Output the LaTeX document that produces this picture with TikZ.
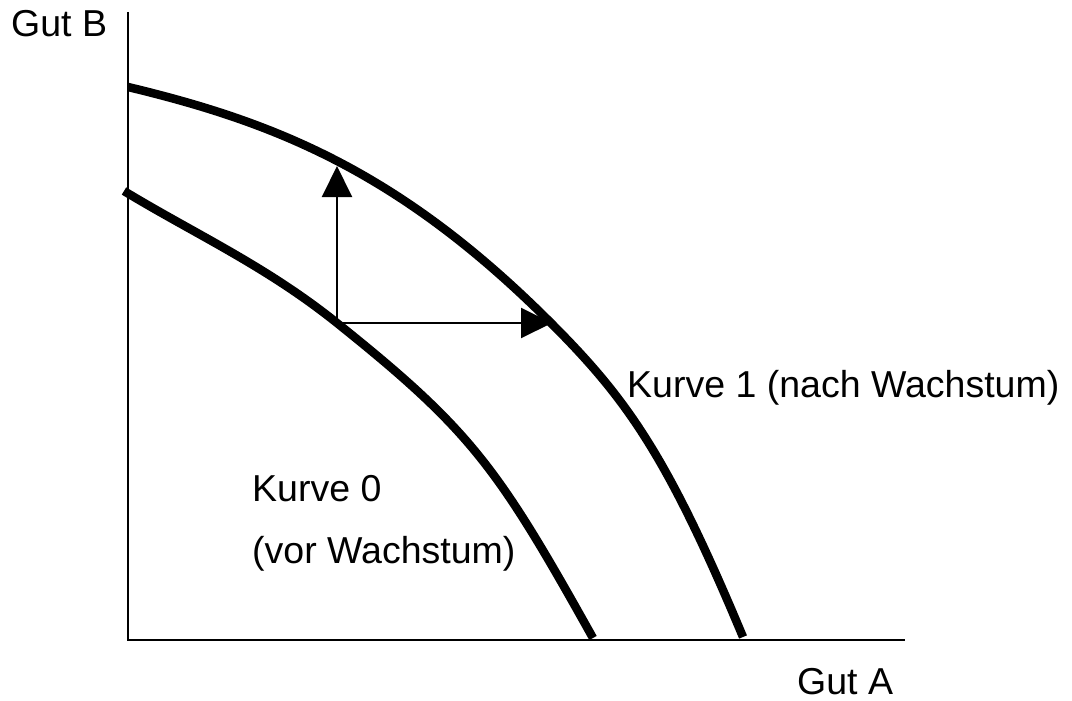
\documentclass[tikz,border=0pt]{standalone}
\usepackage{fontspec}
\setmainfont{Liberation Sans}
\usetikzlibrary{arrows.meta}
\tikzset{
  axisline/.style={line width=2pt},
  curveline/.style={line width=8.5pt, line join=round},
  shiftarrow/.style={-{Triangle[length=31pt, width=30pt]}, line width=2pt},
  axlabel/.style={font=\fontsize{37.5}{44}\selectfont, inner sep=0pt, anchor=base west}
}

\begin{document}
\begin{tikzpicture}[x=1pt, y=-1pt]
  \useasboundingbox (0,0) rectangle (1072,701);
  % axes
  \coordinate (origin) at (128,640);
  \coordinate (ytop) at (128,12);
  \coordinate (xend) at (905,640);
  \draw[axisline] (ytop) -- (origin) -- (xend);
  \node[axlabel] (gutb) at (11,37) {Gut B};
  \node[axlabel] (guta) at (797,694) {Gut A};
  % curve 1 (after growth)
  \draw[curveline] (128,87) .. controls (274,122) and (399,171) .. (550,322)
    .. controls (627,399) and (667,455) .. (743,637);
  % curve 0 (before growth)
  \draw[curveline] (124,191) .. controls (195,234) and (266,266) .. (337,323)
    .. controls (472,431) and (498,468) .. (593,638);
  % shift arrows
  \coordinate (p0) at (337,323);
  \coordinate (p1up) at (337,166);
  \coordinate (p1right) at (552,323);
  \draw[shiftarrow] (p0) -- (p1up);
  \draw[shiftarrow] (p0) -- (p1right);
  \node[axlabel] (kurve1) at (627,397) {Kurve 1 (nach Wachstum)};
  \node[axlabel] (kurve0) at (252,501) {Kurve 0};
  \node[axlabel] (vorw) at (252,563) {(vor Wachstum)};
\end{tikzpicture}
\end{document}
